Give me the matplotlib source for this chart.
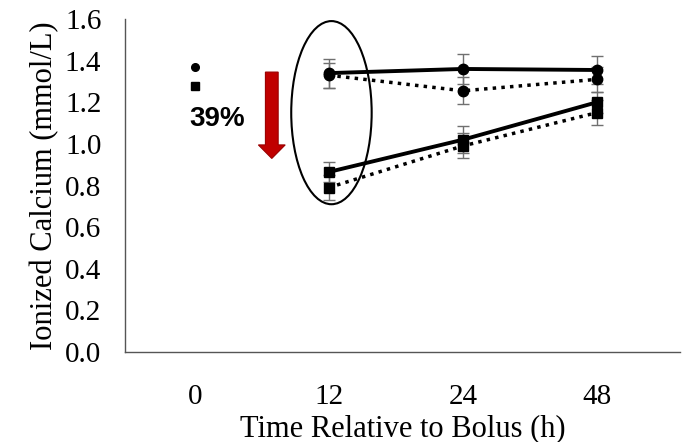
import numpy as np
import matplotlib.pyplot as plt
from matplotlib.patches import Ellipse, FancyArrow

# Data
categories = ["0", "12", "24", "48"]
x_pos = [1, 2, 3]

base_circle = 1.37
base_square = 1.28

circ_solid = [1.34, 1.36, 1.355]
circ_solid_err = [0.07, 0.07, 0.065]
circ_dot = [1.33, 1.255, 1.31]
circ_dot_err = [0.06, 0.065, 0.06]
sq_solid = [0.865, 1.02, 1.20]
sq_solid_err = [0.05, 0.065, 0.05]
sq_dot = [0.79, 0.99, 1.15]
sq_dot_err = [0.06, 0.06, 0.06]

plt.rcParams['font.family'] = ['Liberation Serif', 'DejaVu Serif']

fig = plt.figure(figsize=(6.82, 4.42), dpi=100)
ax = fig.add_axes([125/682, 90/442, 555/682, 333/442])

ebkw = dict(ecolor='#707070', elinewidth=1.0, capsize=4, capthick=1.0, color='black')
ax.errorbar(x_pos, circ_solid, yerr=circ_solid_err, marker='o', ms=7.5, lw=2.8, ls='-', **ebkw)
ax.errorbar(x_pos, circ_dot, yerr=circ_dot_err, marker='o', ms=7.5, lw=2.5, ls=(0, (1, 1.5)), **ebkw)
ax.errorbar(x_pos, sq_solid, yerr=sq_solid_err, marker='s', ms=7.5, lw=2.8, ls='-', **ebkw)
ax.errorbar(x_pos, sq_dot, yerr=sq_dot_err, marker='s', ms=7.5, lw=2.5, ls=(0, (1, 1.5)), **ebkw)
ax.plot([0], [base_circle], marker='o', ms=5.5, color='black', ls='none')
ax.plot([0], [base_square], marker='s', ms=5.5, color='black', ls='none')

ax.set_xlim(-0.52, 3.62)
ax.set_ylim(0, 1.6)
ax.set_xticks(range(len(categories)))
ax.set_xticklabels(categories)
ax.set_yticks(np.arange(0, 1.61, 0.2))
ax.set_yticklabels(["{:.1f}".format(v) for v in np.arange(0, 1.61, 0.2)])
ax.tick_params(axis='both', length=0, labelsize=21)
ax.tick_params(axis='y', pad=17)
ax.tick_params(axis='x', pad=23)
for s in ['top', 'right']:
    ax.spines[s].set_visible(False)
for s in ['left', 'bottom']:
    ax.spines[s].set_color('#555555')
    ax.spines[s].set_linewidth(1.0)

ax.set_xlabel("Time Relative to Bolus (h)", fontsize=22, labelpad=3)
ax.set_ylabel("Ionized Calcium (mmol/L)", fontsize=22, labelpad=4)

# Annotations
ax.add_patch(Ellipse((1.02, 1.15), 0.6, 0.88, fill=False, ec='black', lw=1.5, clip_on=False))
ax.add_patch(FancyArrow(0.575, 1.345, 0, -0.415, width=0.095, head_width=0.2, head_length=0.065,
                        length_includes_head=True, fc='#C00000', ec='#9a0000', lw=0.8))
ax.text(0.17, 1.12, "39%", fontsize=20, fontweight='bold', family='Liberation Sans',
        ha='center', va='center')

fig.savefig("out.png", dpi=100)
